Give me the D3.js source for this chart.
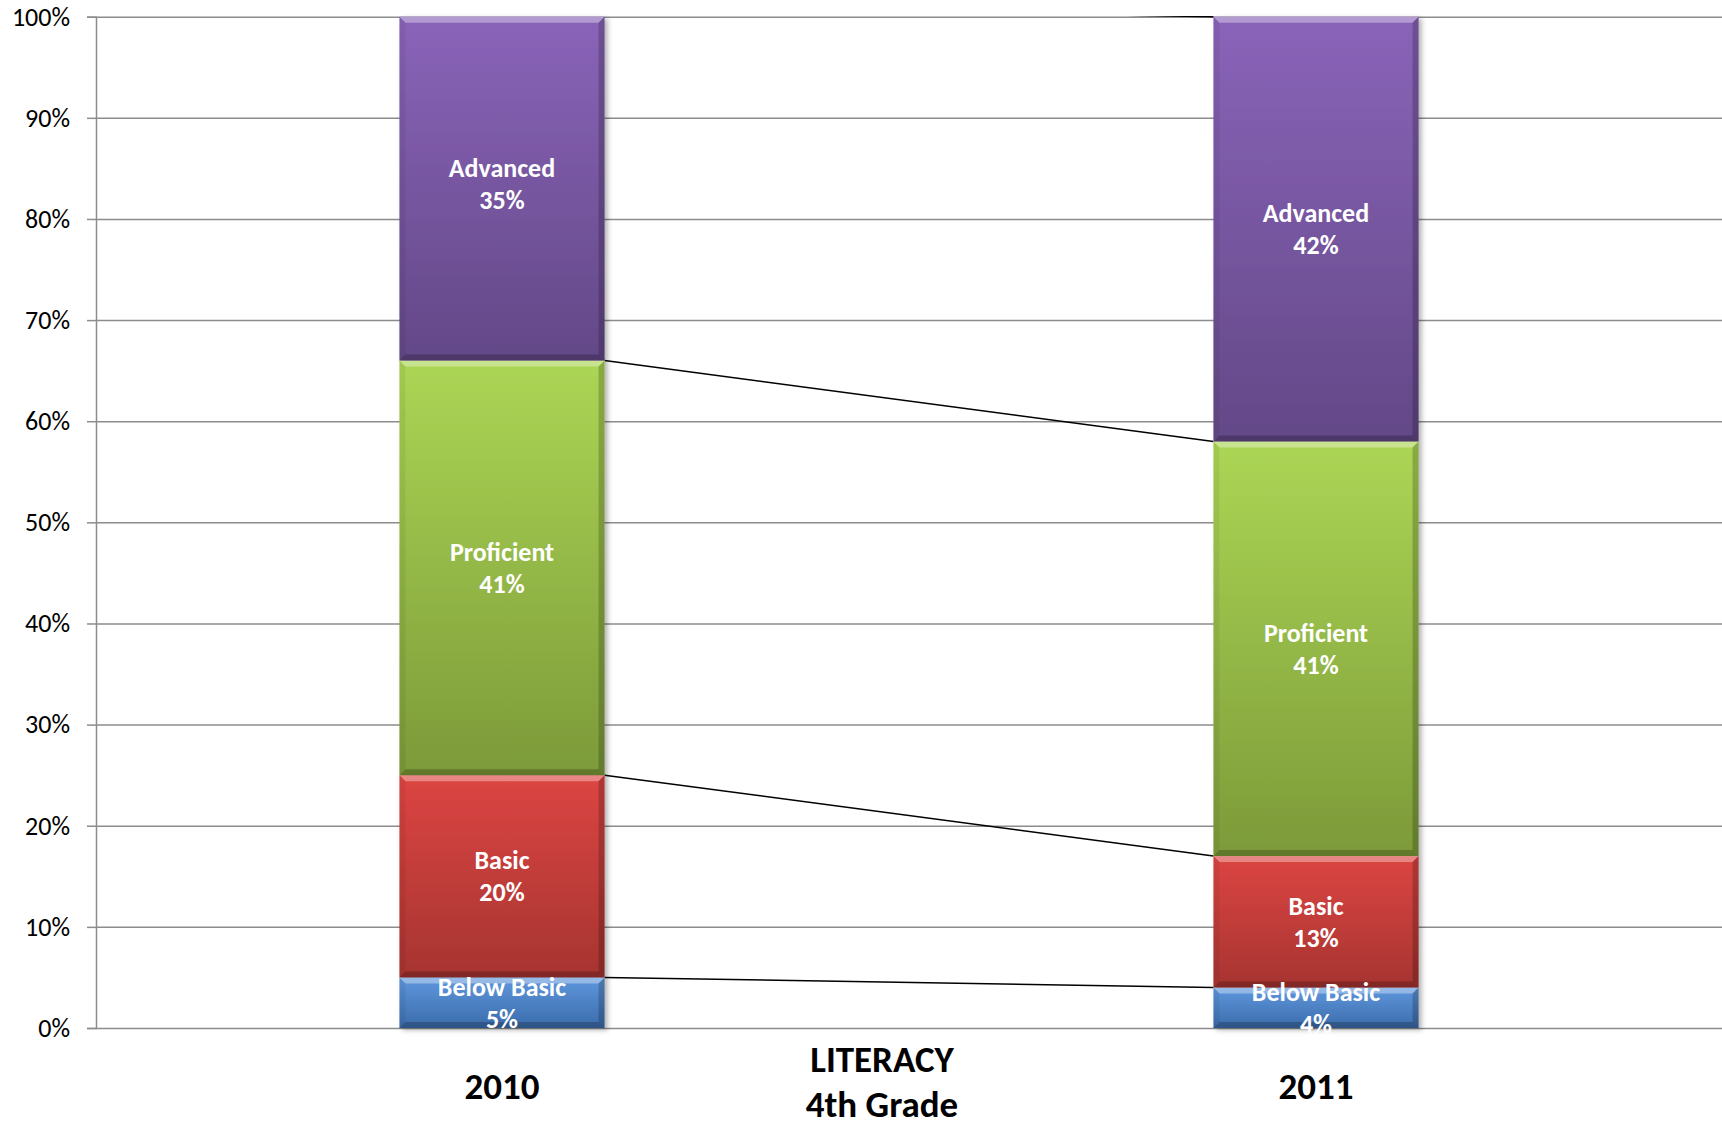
<!DOCTYPE html>
<html>
<head>
<meta charset="utf-8">
<script src="https://cdn.jsdelivr.net/npm/d3@7"></script>
<style>
  html, body { margin: 0; padding: 0; background: #fff; }
  svg { display: block; font-family: Carlito, Lato, "Open Sans", sans-serif; }
</style>
</head>
<body>
<svg id="chart" width="1722" height="1128"></svg>
<script>
// data
const years = ['2010', '2011']
const levels = ['Below Basic', 'Basic', 'Proficient', 'Advanced']
const belowBasic = [5, 4]
const basic = [20, 13]
const proficient = [41, 41]
const advanced = [35, 42]
const yTicks = [0, 10, 20, 30, 40, 50, 60, 70, 80, 90, 100]
const axisTitle = ['LITERACY', '4th Grade']

const colors = {
    'Below Basic': ['#5f97dd', '#3b6cab'],
    'Basic': ['#dc4542', '#a63431'],
    'Proficient': ['#acd655', '#7c9a39'],
    'Advanced': ['#8a64b9', '#634887']
}

const rows = years.map((year, i) => ({
    year,
    'Below Basic': belowBasic[i],
    'Basic': basic[i],
    'Proficient': proficient[i],
    'Advanced': advanced[i]
}))

const W = 1722
const mLeft = 96, mTop = 16.7, mBottom = 1028

const svg = d3.select('#chart')
const defs = svg.append('defs')

levels.forEach((lvl, i) => {
    const g = defs.append('linearGradient')
        .attr('id', 'grad' + i)
        .attr('x1', 0).attr('y1', 0).attr('x2', 0).attr('y2', 1)
    g.append('stop').attr('offset', '0%').attr('stop-color', colors[lvl][0])
    g.append('stop').attr('offset', '100%').attr('stop-color', colors[lvl][1])
})

const shadow = defs.append('filter').attr('id', 'shadow')
    .attr('x', '-10%').attr('y', '-5%').attr('width', '130%').attr('height', '115%')
shadow.append('feDropShadow')
    .attr('dx', 3).attr('dy', 2).attr('stdDeviation', 2.5)
    .attr('flood-color', '#000').attr('flood-opacity', 0.3)

defs.append('clipPath').attr('id', 'plot')
    .append('rect')
    .attr('x', mLeft).attr('y', mTop - 0.75)
    .attr('width', W - mLeft).attr('height', mBottom - mTop + 0.75)

const x = d3.scaleBand()
    .domain(years)
    .range([mLeft - 1, W + 1])
    .paddingInner(0.748)
    .paddingOuter(0.374)

const y = d3.scaleLinear()
    .domain([0, 100])
    .range([mBottom, mTop])

const stacked = d3.stack().keys(levels)(rows)

// gridlines + y axis
const yAxis = d3.axisLeft(y)
    .tickValues(yTicks)
    .tickSize(9)
    .tickPadding(17)
    .tickFormat(d => d + '%')

const yG = svg.append('g')
    .attr('transform', `translate(${mLeft},0)`)
    .call(yAxis)
yG.select('.domain').attr('stroke', '#8c8c8c').attr('stroke-width', 1.5)
yG.selectAll('.tick line').attr('stroke', '#8c8c8c').attr('stroke-width', 1.5)
yG.selectAll('.tick text')
    .attr('font-size', 26)
    .attr('font-family', 'Carlito, Lato, sans-serif')
    .attr('fill', '#000')
yG.selectAll('.tick').append('line')
    .attr('x1', 0).attr('x2', W - mLeft)
    .attr('stroke', '#8c8c8c').attr('stroke-width', 1.5)

// series lines between bars (clipped to the plot area like the bars)
const lines = svg.append('g').attr('clip-path', 'url(#plot)')
stacked.forEach(s => {
    lines.append('line')
        .attr('x1', x(years[0]) + x.bandwidth())
        .attr('y1', y(s[0][1]))
        .attr('x2', x(years[1]))
        .attr('y2', y(s[1][1]))
        .attr('stroke', '#000')
        .attr('stroke-width', 1.5)
})

// bars
const yc = v => y(Math.min(v, 100))
const bars = svg.append('g').attr('filter', 'url(#shadow)')
const b = 6
stacked.forEach((s, si) => {
    s.forEach((d, i) => {
        const x0 = x(years[i]), x1 = x0 + x.bandwidth()
        const y0 = yc(d[1]), y1 = yc(d[0])
        const g = bars.append('g')
        g.append('rect')
            .attr('x', x0).attr('y', y0)
            .attr('width', x1 - x0).attr('height', y1 - y0)
            .attr('fill', `url(#grad${si})`)
        const bevel = (pts, fill, op) => g.append('polygon')
            .attr('points', pts.map(p => p.join(',')).join(' '))
            .attr('fill', fill).attr('fill-opacity', op)
        bevel([[x0, y0], [x1, y0], [x1 - b, y0 + b], [x0 + b, y0 + b]], '#fff', 0.35)
        bevel([[x0, y1], [x1, y1], [x1 - b, y1 - b], [x0 + b, y1 - b]], '#000', 0.22)
        bevel([[x0, y0], [x0 + b, y0 + b], [x0 + b, y1 - b], [x0, y1]], '#000', 0.06)
        bevel([[x1, y0], [x1 - b, y0 + b], [x1 - b, y1 - b], [x1, y1]], '#000', 0.2)
    })
})

// data labels
const labels = svg.append('g')
    .attr('font-weight', 'bold')
    .attr('font-size', 26)
    .attr('fill', '#fff')
    .attr('text-anchor', 'middle')
stacked.forEach(s => {
    s.forEach((d, i) => {
        const cx = x(years[i]) + x.bandwidth() / 2
        const cy = (y(d[0]) + y(d[1])) / 2
        labels.append('text').attr('x', cx).attr('y', cy - 7).text(s.key)
        labels.append('text').attr('x', cx).attr('y', cy + 25).text(d.data[s.key] + '%')
    })
})

// category labels
svg.append('g')
    .selectAll('text')
    .data(years)
    .join('text')
    .attr('x', d => x(d) + x.bandwidth() / 2)
    .attr('y', 1099)
    .attr('text-anchor', 'middle')
    .attr('font-weight', 'bold')
    .attr('font-size', 37)
    .text(d => d)

// axis title
svg.append('g')
    .selectAll('text')
    .data(axisTitle)
    .join('text')
    .attr('x', 882)
    .attr('y', (d, i) => 1072 + i * 45)
    .attr('text-anchor', 'middle')
    .attr('font-weight', 'bold')
    .attr('font-size', 37)
    .text(d => d)
</script>
</body>
</html>
